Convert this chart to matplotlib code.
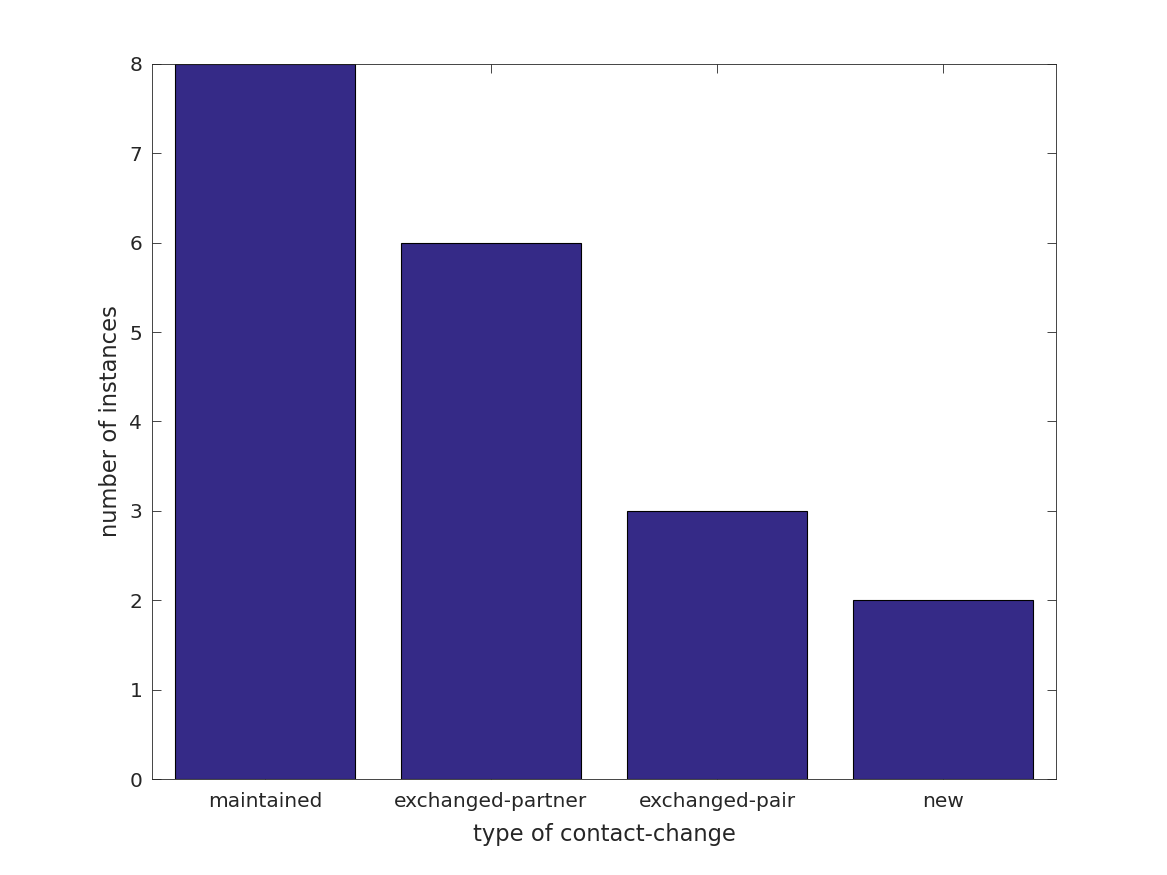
import matplotlib
matplotlib.use("Agg")
import matplotlib.pyplot as plt

# data
categories = ["maintained", "exchanged-partner", "exchanged-pair", "new"]
counts = [8, 6, 3, 2]

plt.rcParams['font.family'] = ['DejaVu Sans']
fig = plt.figure(figsize=(11.67, 8.75), dpi=100)
ax = fig.add_axes([0.1302, 0.1097, 0.7747, 0.8172])

pos = list(range(1, len(categories) + 1))
ax.bar(pos, counts, width=0.8, color='#352a87', edgecolor='black', linewidth=0.8, zorder=2)

ax.set_xlim(0.5, 4.5)
ax.set_ylim(0, 8)
ax.set_xticks(pos)
ax.set_xticklabels(categories)
ax.set_yticks(range(0, 9))

ax.tick_params(axis='x', pad=9)
ax.tick_params(axis='y', pad=7)
ax.tick_params(direction='in', top=True, right=True, labelsize=14.5,
               colors='#262626', length=6.5, width=0.6)
for s in ax.spines.values():
    s.set_linewidth(0.6)
    s.set_color('#262626')
ax.set_xlabel("type of contact-change", fontsize=16.3, color='#262626', labelpad=9)
ax.set_ylabel("number of instances", fontsize=16.3, color='#262626', labelpad=5)

fig.savefig("out.png", dpi=100)
